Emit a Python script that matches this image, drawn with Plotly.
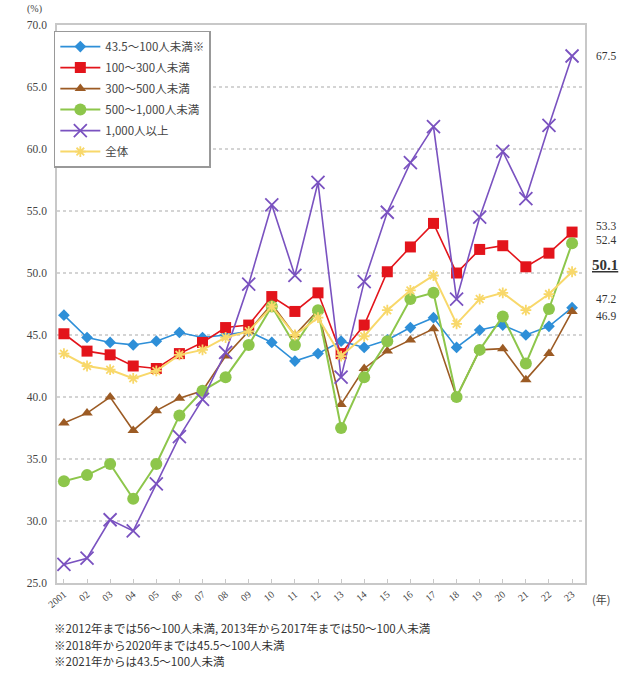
import plotly.graph_objects as go

years = list(range(2001, 2024))
year_labels = ["2001"] + [f"{y % 100:02d}" for y in range(2002, 2024)]

s_43_100 = [46.6, 44.8, 44.4, 44.2, 44.5, 45.2, 44.8, 45.0, 45.3, 44.4, 42.9, 43.5,
            44.5, 44.0, 44.6, 45.6, 46.4, 44.0, 45.4, 45.8, 45.0, 45.7, 47.2]
s_100_300 = [45.1, 43.7, 43.4, 42.5, 42.3, 43.5, 44.4, 45.6, 45.8, 48.1, 46.9, 48.4,
             43.5, 45.8, 50.1, 52.1, 54.0, 50.0, 51.9, 52.2, 50.5, 51.6, 53.3]
s_300_500 = [37.9, 38.7, 40.0, 37.3, 38.9, 39.9, 40.5, 43.3, 45.3, 47.5, 45.0, 47.0,
             39.4, 42.3, 43.7, 44.6, 45.5, 40.0, 43.8, 43.9, 41.4, 43.5, 46.9]
s_500_1000 = [33.2, 33.7, 34.6, 31.8, 34.6, 38.5, 40.5, 41.6, 44.2, 47.3, 44.2, 47.0,
              37.5, 41.6, 44.5, 47.9, 48.4, 40.0, 43.8, 46.5, 42.7, 47.1, 52.4]
s_1000_over = [26.5, 27.0, 30.1, 29.2, 33.0, 36.8, 39.8, 43.6, 49.1, 55.5, 49.8, 57.3,
               41.6, 49.3, 54.9, 58.9, 61.8, 47.9, 54.5, 59.8, 56.0, 61.9, 67.5]
s_total = [43.5, 42.5, 42.2, 41.5, 42.1, 43.4, 43.8, 44.8, 45.3, 47.3, 45.0, 46.4,
           43.3, 44.9, 47.0, 48.6, 49.8, 45.9, 47.9, 48.4, 47.0, 48.3, 50.1]

series_names = ["43.5～100人未満※", "100～300人未満", "300～500人未満",
                "500～1,000人未満", "1,000人以上", "全体"]

footnotes = [
    "※2012年までは56～100人未満, 2013年から2017年までは50～100人未満",
    "※2018年から2020年までは45.5～100人未満",
    "※2021年からは43.5～100人未満",
]

SERIF = "Liberation Serif, Noto Sans CJK JP, serif"
JP = "Noto Sans CJK JP, sans-serif"

styles = [
    dict(color="#2E8FD8", symbol="diamond", size=9, lw=1.6),
    dict(color="#E3141B", symbol="square", size=11, lw=1.6),
    dict(color="#9C5B24", symbol="triangle-up", size=10, lw=1.6),
    dict(color="#8DC64B", symbol="circle", size=12, lw=2.0),
    dict(color="#7A52C0", symbol="x-thin-open", size=13, lw=1.6),
    dict(color="#F8D86A", symbol="asterisk-open", size=9, lw=2.0),
]
all_series = [s_43_100, s_100_300, s_300_500, s_500_1000, s_1000_over, s_total]

fig = go.Figure()
for i, (name, vals, st) in enumerate(zip(series_names, all_series, styles)):
    marker = dict(symbol=st["symbol"], size=st["size"], color=st["color"])
    if "open" in st["symbol"]:
        marker["line"] = dict(color=st["color"], width=1.8)
    fig.add_trace(go.Scatter(
        x=years, y=vals, name=name, mode="lines+markers",
        line=dict(color=st["color"], width=st["lw"]),
        marker=marker, legendgroup=str(i),
    ))

# end-of-line value labels (value, vertical nudge in px, emphasised)
end_labels = [
    (s_1000_over[-1], 0, False),
    (s_100_300[-1], 6, False),
    (s_500_1000[-1], 3, False),
    (s_total[-1], 7, True),
    (s_43_100[-1], 9, False),
    (s_300_500[-1], -5, False),
]
for val, shift, emph in end_labels:
    txt = f"{val:.1f}"
    if emph:
        txt = f"<b><u>{txt}</u></b>"
    fig.add_annotation(
        x=2023, y=val, xref="x", yref="y", text=txt, showarrow=False,
        xanchor="left", yanchor="middle", xshift=22 if not emph else 18,
        yshift=shift,
        font=dict(family=SERIF, size=15 if emph else 11.5, color="#333333"),
    )

fig.add_annotation(x=-0.042, y=1.0, xref="paper", yref="paper", text="(%)",
                   showarrow=False, xanchor="center", yanchor="bottom", yshift=8,
                   font=dict(family=SERIF, size=10, color="#444444"))
fig.add_annotation(x=1.0, y=0, xref="paper", yref="paper", text="(年)",
                   showarrow=False, xanchor="left", yanchor="top", xshift=5, yshift=-6,
                   font=dict(family=JP, size=11, color="#444444"))
for k, line in enumerate(footnotes):
    fig.add_annotation(x=0, y=0, xref="paper", yref="paper", text=line,
                       showarrow=False, xanchor="left", yanchor="top",
                       xshift=-5, yshift=-35 - 16.5 * k,
                       font=dict(family=JP, size=11.5, color="#333333"))

fig.update_layout(
    width=632, height=682,
    margin=dict(l=57, r=47, t=25, b=99),
    paper_bgcolor="white", plot_bgcolor="white",
    showlegend=True,
    legend=dict(
        x=-0.006, y=0.99, xanchor="left", yanchor="top",
        bgcolor="white", bordercolor="#999999", borderwidth=1.5,
        font=dict(family=JP, size=11.5, color="#444444"),
        traceorder="grouped", tracegroupgap=2, itemwidth=40,
    ),
    xaxis=dict(
        range=[2000.7, 2023.56], tickmode="array", tickvals=years, ticktext=year_labels,
        tickangle=-40, showgrid=False, zeroline=False,
        showline=True, mirror=True, linecolor="#c8c8c8", linewidth=1.5,
        ticks="inside", ticklen=4, tickcolor="#c8c8c8",
        tickfont=dict(family=SERIF, size=10, color="#444444"),
    ),
    yaxis=dict(
        range=[25, 70], tickmode="array", tickvals=[25, 30, 35, 40, 45, 50, 55, 60, 65, 70],
        ticktext=[f"{v:.1f}" for v in [25, 30, 35, 40, 45, 50, 55, 60, 65, 70]],
        showgrid=True, gridcolor="#d4d4d4", griddash="dot", gridwidth=1.5,
        zeroline=False, showline=True, mirror=True, linecolor="#c8c8c8", linewidth=1.5,
        ticks="", ticklabelstandoff=6,
        tickfont=dict(family=SERIF, size=11.5, color="#444444"),
    ),
)

fig.write_html("out.html")
